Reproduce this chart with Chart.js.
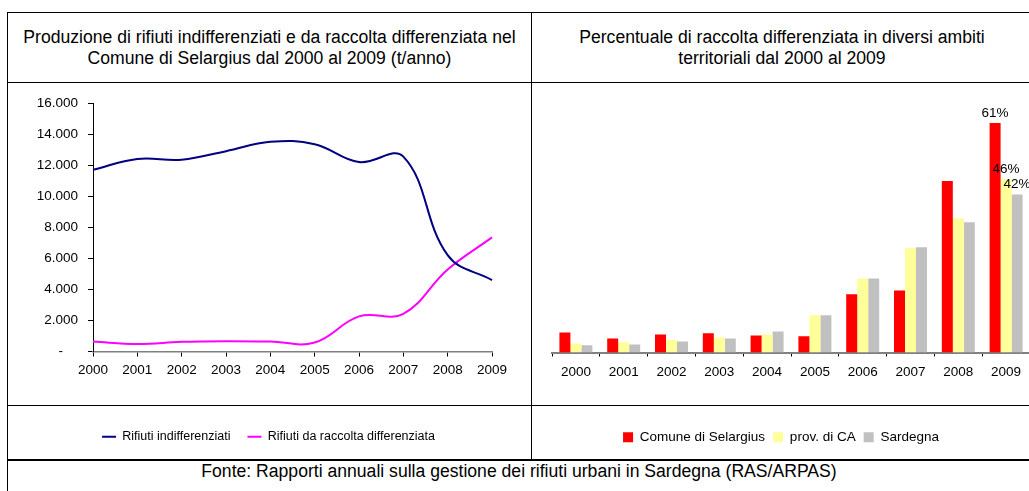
<!DOCTYPE html>
<html>
<head>
<meta charset="utf-8">
<title>Rifiuti Selargius</title>
<script src="https://cdn.jsdelivr.net/npm/chart.js@4.4.1/dist/chart.umd.min.js"></script>
<style>
html, body { margin: 0; padding: 0; background: #fff; }
body {
	position: relative;
	width: 1029px;
	height: 491px;
	overflow: hidden;
	font-family: 'Liberation Sans', Arial, sans-serif;
	color: #000;
}
.line { position: absolute; background: #000; }
.cell {
	position: absolute;
	display: flex;
	align-items: center;
	justify-content: center;
	text-align: center;
	font-size: 17.6px;
	line-height: 21px;
	white-space: nowrap;
}
canvas { position: absolute; }
</style>
</head>
<body>

<!-- table borders -->
<div class="line" style="left:7px; top:12px; width:1030px; height:1px;"></div>
<div class="line" style="left:7px; top:82px; width:1030px; height:1px;"></div>
<div class="line" style="left:7px; top:405px; width:1030px; height:1px;"></div>
<div class="line" style="left:7px; top:459px; width:1030px; height:2px;"></div>
<div class="line" style="left:7px; top:12px; width:1px; height:480px;"></div>
<div class="line" style="left:531px; top:12px; width:1px; height:448px;"></div>

<div class="cell" style="left:8px; top:13px; width:523px; height:69px;">Produzione di rifiuti indifferenziati e da raccolta differenziata nel<br>Comune di Selargius dal 2000 al 2009 (t/anno)</div>
<div class="cell" style="left:532px; top:13px; width:500px; height:69px;">Percentuale di raccolta differenziata in diversi ambiti<br>territoriali dal 2000 al 2009</div>
<div class="cell" style="left:8px; top:461px; width:1022px; height:20px;">Fonte: Rapporti annuali sulla gestione dei rifiuti urbani in Sardegna (RAS/ARPAS)</div>

<canvas id="lineChart" width="522" height="376" style="left:8px; top:83px;"></canvas>
<canvas id="barChart" width="510" height="376" style="left:532px; top:83px;"></canvas>

<script>
// data
var years = ['2000', '2001', '2002', '2003', '2004', '2005', '2006', '2007', '2008', '2009'];

// t/anno
var rifiutiIndifferenziati = [11700, 12400, 12350, 12900, 13500, 13350, 12200, 12550, 6200, 4600];
var rifiutiDifferenziata = [640, 490, 620, 660, 640, 580, 2260, 2430, 5280, 7350];
var lineTicks = [0, 2000, 4000, 6000, 8000, 10000, 12000, 14000, 16000];

// % raccolta differenziata
var comuneSelargius = [5.3, 3.7, 4.8, 5.1, 4.5, 4.3, 15.5, 16.5, 45.6, 61];
var provinciaCA = [2.4, 2.7, 3.3, 4.0, 4.8, 9.9, 19.7, 27.8, 35.7, 46];
var sardegna = [1.9, 2.1, 2.9, 3.7, 5.6, 9.9, 19.7, 28.0, 34.6, 42];
var labelledYear = '2009';

Chart.defaults.font.family = "'Liberation Sans', Arial, sans-serif";
Chart.defaults.color = '#000';
Chart.defaults.animation = false;
Chart.defaults.plugins.tooltip.enabled = false;

// 12.000 style, zero shown as a dash
function formatTons(v) {
	if (v === 0) return '-    ';
	return String(v).replace(/\B(?=(\d{3})+(?!\d))/g, '.');
}

// empty axis, only used to reserve space so the legend stays centred in the cell
function spacerAxis(position, width) {
	return {
		position: position,
		display: true,
		grid: { display: false },
		border: { display: false },
		ticks: { display: false },
		afterFit: function(scale) { scale.width = width; }
	};
}

// line chart
var ctx1 = document.getElementById('lineChart');
window.lineChart = new Chart(ctx1, {
	type: 'line',
	data: {
		labels: years,
		datasets: [{
			label: 'Rifiuti indifferenziati',
			data: rifiutiIndifferenziati,
			borderColor: '#000080',
			backgroundColor: '#000080',
			borderWidth: 2,
			pointRadius: 0,
			pointStyle: 'line',
			tension: 0.4
		}, {
			label: 'Rifiuti da raccolta differenziata',
			data: rifiutiDifferenziata,
			borderColor: '#FF00FF',
			backgroundColor: '#FF00FF',
			borderWidth: 2,
			pointRadius: 0,
			pointStyle: 'line',
			tension: 0.4
		}]
	},
	options: {
		responsive: false,
		devicePixelRatio: 1,
		layout: { padding: { left: 20, right: 21, top: 20, bottom: 6 } },
		plugins: {
			legend: {
				position: 'bottom',
				labels: {
					usePointStyle: true,
					pointStyle: 'line',
					pointStyleWidth: 14,
					boxHeight: 12,
					padding: 17,
					font: { size: 12.5 }
				}
			}
		},
		scales: {
			x: {
				offset: false,
				grid: { display: true, drawOnChartArea: false, drawTicks: true, tickLength: 5, color: '#000' },
				border: { color: '#808080', width: 1.5 },
				ticks: { font: { size: 13.5 }, padding: 6, maxRotation: 0, autoSkip: false },
				afterFit: function(scale) { scale.height = 62; }
			},
			y: {
				min: 0,
				max: 16000,
				afterBuildTicks: function(scale) {
					scale.ticks = lineTicks.map(function(v) { return { value: v }; });
				},
				grid: { display: true, drawOnChartArea: false, drawTicks: true, tickLength: 5, color: '#000' },
				border: { color: '#000', width: 1 },
				ticks: { font: { size: 13.5 }, padding: 10, callback: formatTons },
				afterFit: function(scale) { scale.width = 65; }
			},
			yRight: spacerAxis('right', 17)
		}
	}
});

// percent labels on top of the last group
var percentLabels = {
	id: 'percentLabels',
	afterDatasetsDraw: function(chart) {
		var c = chart.ctx;
		var idx = chart.data.labels.indexOf(labelledYear);
		c.save();
		c.font = "13.5px 'Liberation Sans', Arial, sans-serif";
		c.fillStyle = '#000';
		c.textAlign = 'center';
		c.textBaseline = 'bottom';
		chart.data.datasets.forEach(function(ds, i) {
			var bar = chart.getDatasetMeta(i).data[idx];
			c.fillText(Math.round(ds.data[idx]) + '%', bar.x, bar.y - 3);
		});
		c.restore();
	}
};

// bar chart
var ctx2 = document.getElementById('barChart');
window.barChart = new Chart(ctx2, {
	type: 'bar',
	data: {
		labels: years,
		datasets: [{
			label: 'Comune di Selargius',
			data: comuneSelargius,
			backgroundColor: '#FF0000',
			borderWidth: 0
		}, {
			label: 'prov. di CA',
			data: provinciaCA,
			backgroundColor: '#FFFF99',
			borderWidth: 0
		}, {
			label: 'Sardegna',
			data: sardegna,
			backgroundColor: '#C0C0C0',
			borderWidth: 0
		}]
	},
	options: {
		responsive: false,
		devicePixelRatio: 1,
		categoryPercentage: 0.69,
		barPercentage: 1.0,
		layout: { padding: { left: 0, right: 12, top: 25, bottom: 5 } },
		plugins: {
			legend: {
				position: 'bottom',
				labels: {
					boxWidth: 10,
					boxHeight: 10,
					padding: 8,
					font: { size: 13.5 }
				}
			}
		},
		scales: {
			x: {
				grid: { display: true, drawOnChartArea: false, drawTicks: true, tickLength: 4, color: '#000', offset: true },
				border: { color: '#808080', width: 2 },
				ticks: { font: { size: 13.5 }, padding: 8, maxRotation: 0, autoSkip: false },
				afterFit: function(scale) { scale.height = 70; }
			},
			y: {
				min: 0,
				max: 65,
				grid: { display: false },
				border: { display: false },
				ticks: { display: false },
				afterFit: function(scale) { scale.width = 20; }
			}
		}
	},
	plugins: [percentLabels]
});
</script>
</body>
</html>
